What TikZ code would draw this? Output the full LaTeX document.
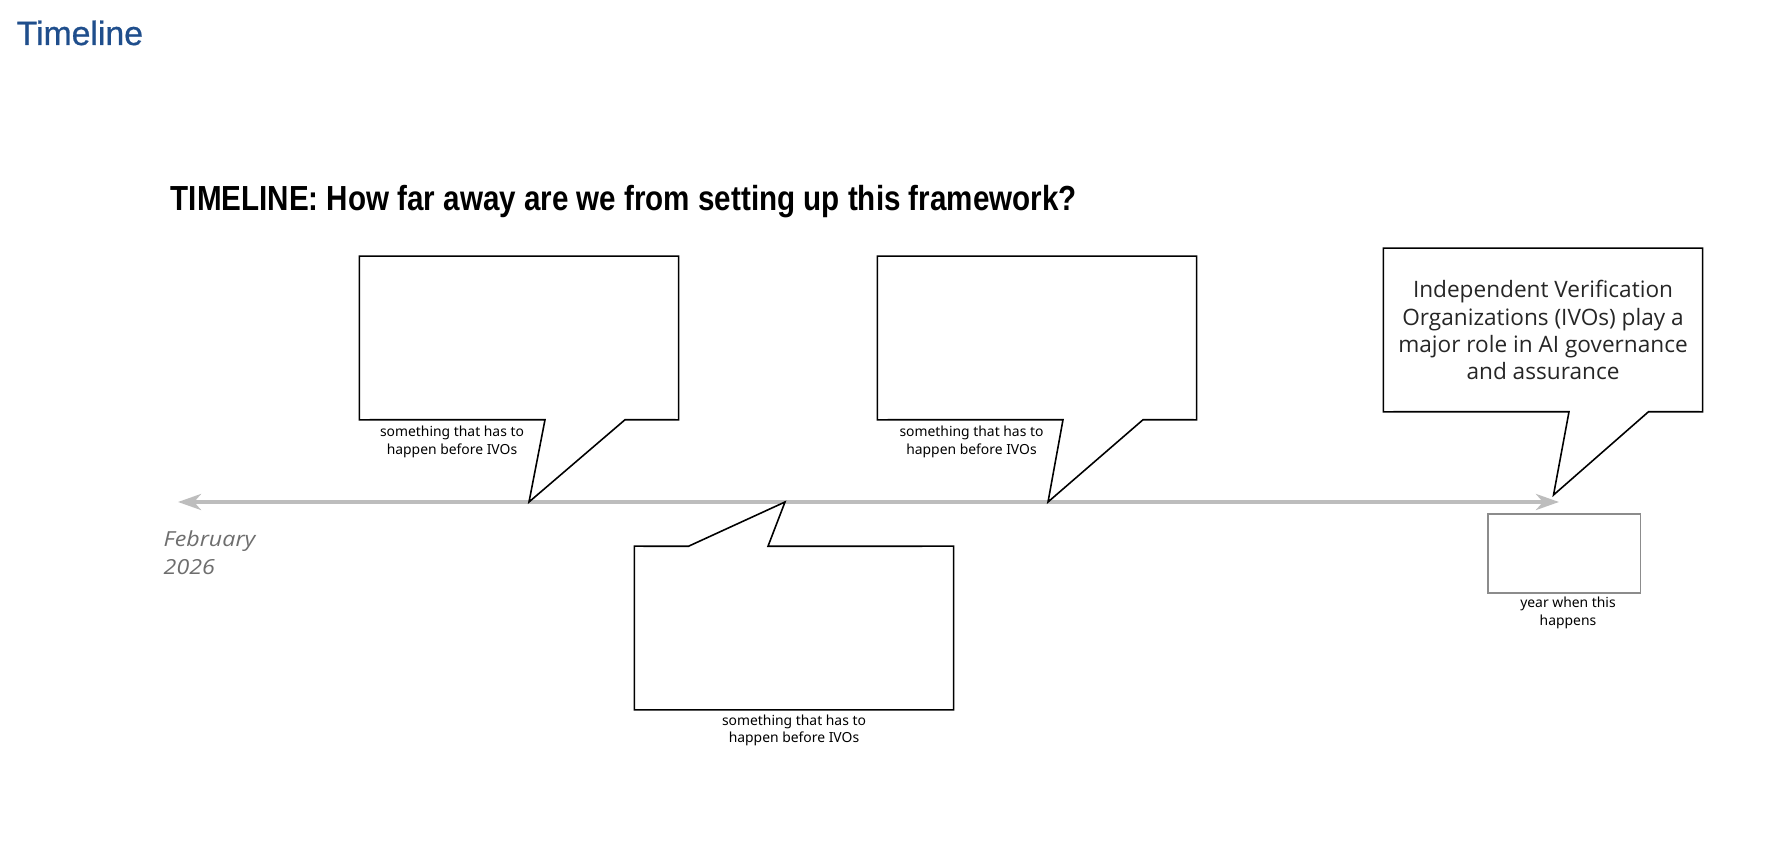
\documentclass[tikz,border=0pt]{standalone}
\usepackage{fontspec}
\setmainfont{Open Sans}
\newfontfamily\headfont[FakeBold=0.8]{Liberation Sans}
\newfontfamily\titlefont[FakeStretch=0.85]{Liberation Sans Bold}
\newfontfamily\notefont{Noto Sans}
\newfontfamily\datefont[FakeStretch=1.12]{Open Sans}
\usetikzlibrary{arrows.meta}
\definecolor{headblue}{HTML}{1F4E8C}
\definecolor{linegray}{HTML}{BDBDBD}
\definecolor{dategray}{HTML}{6E6E6E}
\definecolor{yeargray}{HTML}{8C8C8C}

\tikzset{
  bubble/.style={inner sep=0pt, outer sep=0pt, minimum width=3.19cm, minimum height=1.635cm},
  bubbleline/.style={draw=black, line width=0.45pt, line join=miter},
  note/.style={font=\notefont\fontsize{3.95pt}{5pt}\selectfont, align=center, inner sep=0pt},
}

\begin{document}
\begin{tikzpicture}[x=0.01cm, y=-0.01cm, >={Stealth[length=0.23cm, width=0.16cm, inset=0.07cm]}]
    \useasboundingbox (0,0) rectangle (1778,846);

    % Headings
    \node[anchor=base west, inner sep=0pt, text=headblue,
          font=\headfont\fontsize{9.6pt}{11pt}\selectfont] (head) at (16,45) {Timeline};
    \node[anchor=base west, inner sep=0pt,
          font=\titlefont\fontsize{9.9pt}{12pt}\selectfont] (title) at (170,211)
          {TIMELINE: How far away are we from setting up this framework?};

    % Time axis
    \coordinate (start) at (178,502);
    \coordinate (end) at (1559,502);
    \draw[<->, draw=linegray, line width=1.1pt] (start) -- (end);
    \node[anchor=west, inner sep=0pt, align=left, text=dategray,
          font=\datefont\itshape\fontsize{5.9pt}{8pt}\selectfont] (date) at (163,553) {February\\2026};

    % Tips on the axis
    \coordinate (tip1) at (529,502);
    \coordinate (tip2) at (1048,502);
    \coordinate (tip3) at (785,502);
    \coordinate (tip4) at (1553.5,495);

    % Callout boxes
    \node[bubble] (box1) at (519,338) {};
    \node[bubble] (box2) at (1037,338) {};
    \node[bubble] (box3) at (794,628) {};
    \node[bubble] (box4) at (1543,330) {};
    \coordinate (tail1l) at (545,419.75);
    \coordinate (tail1r) at (625,419.75);
    \coordinate (tail2l) at (1063,419.75);
    \coordinate (tail2r) at (1143,419.75);
    \coordinate (tail3l) at (688.5,546.25);
    \coordinate (tail3r) at (768,546.25);
    \coordinate (tail4l) at (1569,411.75);
    \coordinate (tail4r) at (1648.5,411.75);

    \draw[bubbleline] (box1.south west) -- (box1.north west) -- (box1.north east)
        -- (box1.south east) -- (tail1r) -- (tip1) -- (tail1l) -- cycle;
    \draw[bubbleline] (box2.south west) -- (box2.north west) -- (box2.north east)
        -- (box2.south east) -- (tail2r) -- (tip2) -- (tail2l) -- cycle;
    \draw[bubbleline] (box3.north west) -- (tail3l) -- (tip3) -- (tail3r)
        -- (box3.north east) -- (box3.south east) -- (box3.south west) -- cycle;
    \draw[bubbleline] (box4.south west) -- (box4.north west) -- (box4.north east)
        -- (box4.south east) -- (tail4r) -- (tip4) -- (tail4l) -- cycle;

    % Texts
    \node[note] (note1) at (452,442) {something that has to\\happen before IVOs};
    \node[note] (note2) at (971.5,442) {something that has to\\happen before IVOs};
    \node[note] (note3) at (794,730.5) {something that has to\\happen before IVOs};
    \node[align=center, inner sep=0pt, text=black!85,
          font=\fontsize{6.43pt}{7.7pt}\selectfont] (ivo) at (box4.center)
          {Independent Verification\\Organizations (IVOs) play a\\major role in AI governance\\and assurance};

    % Year box
    \node[draw=yeargray, line width=0.45pt, minimum width=1.525cm, minimum height=0.79cm,
          inner sep=0pt] (year) at (1564,553.5) {};
    \node[note] (yearnote) at (1568,613) {year when this\\happens};
\end{tikzpicture}
\end{document}
